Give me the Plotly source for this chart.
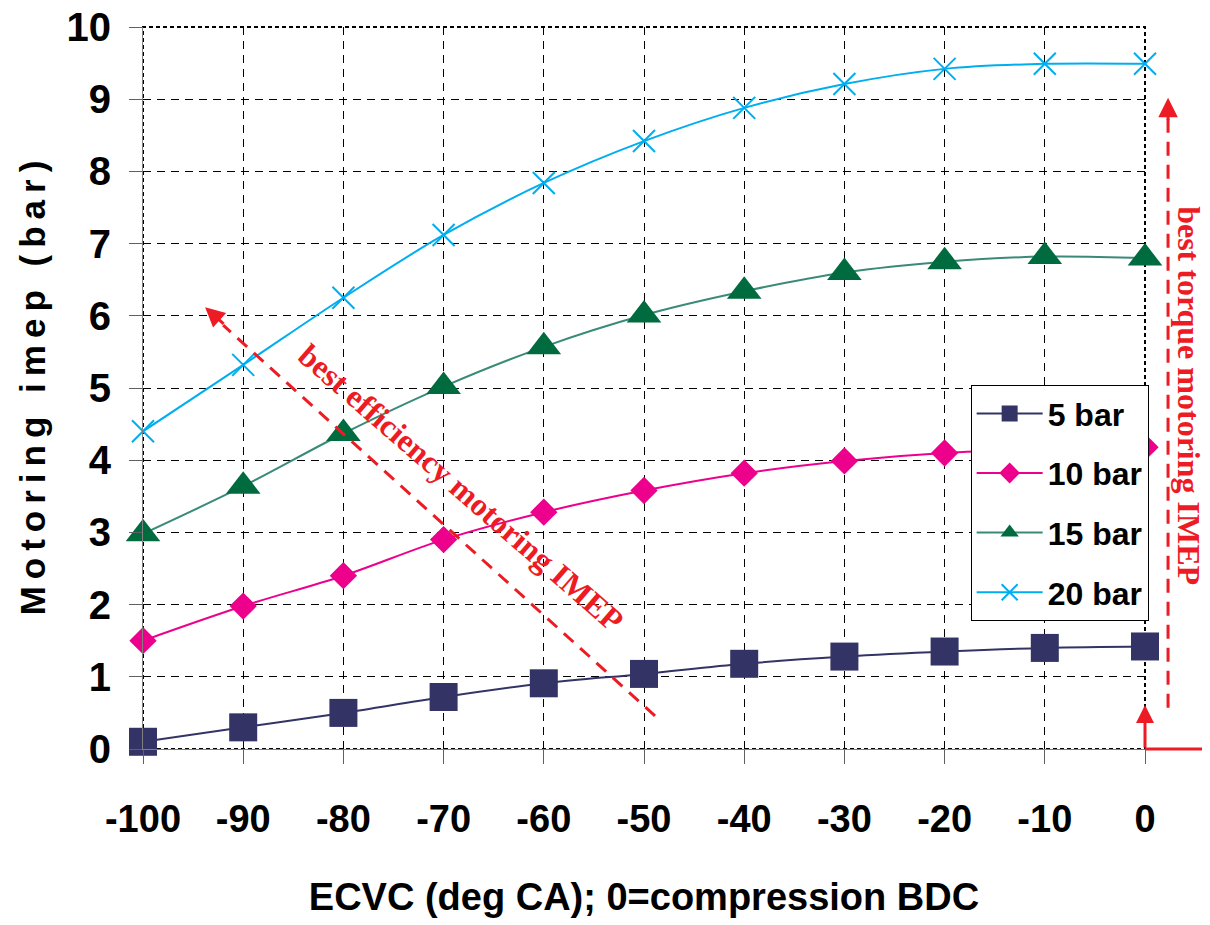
import plotly.graph_objects as go

# ---- data ----
ecvc = [-100, -90, -80, -70, -60, -50, -40, -30, -20, -10, 0]
imep_5bar = [0.10, 0.30, 0.50, 0.72, 0.91, 1.04, 1.18, 1.28, 1.35, 1.40, 1.42]
imep_10bar = [1.50, 1.98, 2.40, 2.90, 3.28, 3.58, 3.82, 3.99, 4.10, 4.15, 4.18]
imep_15bar = [2.98, 3.64, 4.37, 5.02, 5.57, 6.01, 6.34, 6.60, 6.75, 6.82, 6.80]
imep_20bar = [4.40, 5.32, 6.25, 7.12, 7.84, 8.42, 8.88, 9.21, 9.42, 9.49, 9.49]
series_names = ["5 bar", "10 bar", "15 bar", "20 bar"]
x_ticks = [-100, -90, -80, -70, -60, -50, -40, -30, -20, -10, 0]
y_ticks = [0, 1, 2, 3, 4, 5, 6, 7, 8, 9, 10]

NARROW = "Liberation Sans Narrow, Arial Narrow, Liberation Sans, Arial, sans-serif"
SANS = "Liberation Sans, Arial, sans-serif"
SERIF = "Liberation Serif, Times New Roman, serif"
RED = "#ED1C24"

styles = [
    dict(line=dict(color="#333366", width=2), marker=dict(symbol="square", size=28, color="#333366")),
    dict(line=dict(color="#EC008C", width=2), marker=dict(symbol="diamond", size=21, color="#EC008C")),
    dict(line=dict(color="#3A8A78", width=2), marker=dict(symbol="triangle-up", size=30, color="#006B3F")),
    dict(line=dict(color="#00AEEF", width=2), marker=dict(symbol="x-thin", size=22,
                                                      line=dict(color="#00AEEF", width=2), color="#00AEEF")),
]

fig = go.Figure()
for i, (name, ys) in enumerate(zip(series_names, [imep_5bar, imep_10bar, imep_15bar, imep_20bar])):
    fig.add_trace(go.Scatter(
        x=ecvc, y=ys, name=name, mode="lines+markers",
        line=dict(shape="spline", smoothing=1, **styles[i]["line"]),
        marker=styles[i]["marker"], cliponaxis=False,
        legendgroup=name,
    ))

y_title = "\u2009".join(list("Motoring imep (bar)"))

fig.update_layout(
    width=1202, height=917,
    margin=dict(l=135, r=65, t=19, b=176, autoexpand=False),
    paper_bgcolor="white", plot_bgcolor="white",
    showlegend=True,
    legend=dict(
        x=0.826, y=0.504, xanchor="left", yanchor="top",
        bgcolor="white", bordercolor="black", borderwidth=1,
        font=dict(family=NARROW, size=32, color="black", weight="bold"),
        itemwidth=66, tracegroupgap=15, traceorder="grouped",
    ),
    xaxis=dict(
        range=[-100, 0], tickvals=x_ticks, ticktext=[str(v) for v in x_ticks],
        showgrid=True, gridcolor="black", gridwidth=1, griddash="8px,6px",
        zeroline=False, showline=True, linecolor="#808080", linewidth=1,
        ticks="outside", ticklen=14, tickcolor="#606060",
        ticklabelstandoff=22, automargin=False, ticklabeloverflow="allow",
        tickfont=dict(family=NARROW, size=38, color="black", weight="bold"),
        title=dict(text="ECVC (deg CA); 0=compression BDC", standoff=44,
                   font=dict(family=NARROW, size=38, color="black", weight="bold")),
    ),
    yaxis=dict(
        range=[0, 10], tickvals=y_ticks, ticktext=[str(v) for v in y_ticks],
        showgrid=True, gridcolor="black", gridwidth=1, griddash="8px,6px",
        zeroline=False, showline=True, linecolor="#808080", linewidth=1,
        ticks="outside", ticklen=13, tickcolor="#606060",
        ticklabelstandoff=10, automargin=False, ticklabeloverflow="allow",
        tickfont=dict(family=NARROW, size=40, color="black", weight="bold"),
        title=dict(text=y_title, standoff=10,
                   font=dict(family=SANS, size=35, color="black", weight="bold")),
    ),
)

# plot-area border (dotted)
fig.add_shape(type="rect", xref="paper", yref="paper", x0=0, y0=0, x1=1, y1=1,
              line=dict(color="black", width=2, dash="4px,3px"), layer="below")

# diagonal dashed arrow: best efficiency
diag_tail = (-48.9, 0.46)
diag_head = (-93.8, 6.12)
fig.add_shape(type="line", xref="x", yref="y",
              x0=diag_tail[0], y0=diag_tail[1], x1=diag_head[0] + 1.8, y1=diag_head[1] - 0.25,
              line=dict(color=RED, width=3, dash="13px,9px"), layer="above")
fig.add_annotation(x=diag_head[0], y=diag_head[1], xref="x", yref="y", text="",
                   showarrow=True, ax=20, ay=18, arrowhead=2, arrowsize=1.3,
                   arrowwidth=3, arrowcolor=RED, standoff=0)
fig.add_annotation(x=-68.2, y=3.62, xref="x", yref="y", text="best efficiency motoring IMEP",
                   showarrow=False, textangle=41, xanchor="center", yanchor="middle",
                   font=dict(family=SERIF, size=32, color=RED, weight="bold"))

# vertical dashed arrow: best torque (right of plot area)
fig.add_shape(type="line", xref="paper", yref="paper",
              x0=1.023, x1=1.023, y0=0.057, y1=0.875,
              line=dict(color=RED, width=3, dash="14px,9px"), layer="above")
fig.add_annotation(x=1.023, y=0.902, xref="paper", yref="paper", text="",
                   showarrow=True, ax=0, ay=24, arrowhead=2, arrowsize=1.3,
                   arrowwidth=3, arrowcolor=RED, standoff=0)
fig.add_annotation(x=1.044, y=0.49, xref="paper", yref="paper", text="best torque motoring IMEP",
                   showarrow=False, textangle=90, xanchor="center", yanchor="middle",
                   font=dict(family=SERIF, size=32, color=RED, weight="bold"))

# solid red L arrow at x=0
fig.add_annotation(x=0, y=0.61, xref="x", yref="y", text="",
                   showarrow=True, ax=0, ay=44, arrowhead=2, arrowsize=1.2,
                   arrowwidth=3, arrowcolor=RED, standoff=0)
fig.add_shape(type="line", xref="paper", yref="paper", x0=1.0, x1=1.07, y0=0, y1=0,
              line=dict(color=RED, width=3), layer="above")

fig.write_html("out.html")
